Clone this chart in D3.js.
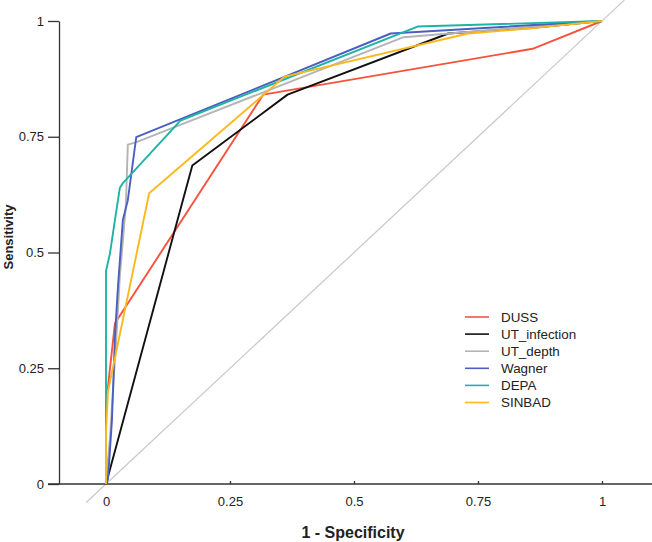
<!DOCTYPE html>
<html>
<head>
<meta charset="utf-8">
<script src="https://cdn.jsdelivr.net/npm/d3@7"></script>
<style>
  body { margin: 0; background: #fff; }
  svg { display: block; font-family: "Liberation Sans", Arial, sans-serif; }
</style>
</head>
<body>
<svg></svg>
<script>
// ROC curves
let seriesNames = ["DUSS", "UT_infection", "UT_depth", "Wagner", "DEPA", "SINBAD"]
let seriesColors = ["#f5533d", "#111111", "#b4b4b4", "#4b5fc2", "#1fb3a3", "#fdb81e"]

let dussFpr = [0, 0, 0.004, 0.018, 0.317, 0.86, 1]
let dussTpr = [0, 0.17, 0.21, 0.347, 0.841, 0.94, 1]

let infectionFpr = [0, 0.174, 0.366, 0.69, 0.855, 1]
let infectionTpr = [0, 0.688, 0.841, 0.973, 0.985, 1]

let depthFpr = [0, 0.008, 0.02, 0.028, 0.04, 0.044, 0.06, 0.16, 0.6, 1]
let depthTpr = [0, 0.1, 0.3, 0.45, 0.6, 0.733, 0.738, 0.78, 0.965, 1]

let wagnerFpr = [0, 0.004, 0.012, 0.018, 0.024, 0.034, 0.044, 0.061, 0.574, 1]
let wagnerTpr = [0, 0.01, 0.138, 0.317, 0.425, 0.57, 0.613, 0.749, 0.973, 1]

let depaFpr = [0, 0, 0, 0.008, 0.018, 0.028, 0.034, 0.15, 0.628, 1]
let depaTpr = [0, 0.17, 0.46, 0.498, 0.57, 0.64, 0.65, 0.785, 0.988, 1]

let sinbadFpr = [0, 0, 0.004, 0.087, 0.36, 0.73, 0.857, 1]
let sinbadTpr = [0, 0.11, 0.2, 0.628, 0.88, 0.973, 0.984, 1]

let tickValues = [0, 0.25, 0.5, 0.75, 1]
let tickLabels = ["0", "0.25", "0.5", "0.75", "1"]
let diagonalRange = [-0.04, 1.045]

let width = 652
let height = 542

let svg = d3.select("svg").attr("width", width).attr("height", height)

let xScale = d3.scaleLinear().domain([0, 1]).range([106, 602])
let yScale = d3.scaleLinear().domain([0, 1]).range([484, 21])

let series = [
    [dussFpr, dussTpr],
    [infectionFpr, infectionTpr],
    [depthFpr, depthTpr],
    [wagnerFpr, wagnerTpr],
    [depaFpr, depaTpr],
    [sinbadFpr, sinbadTpr]
].map((pair, i) => ({
    name: seriesNames[i],
    color: seriesColors[i],
    points: pair[0].map((fx, j) => [fx, pair[1][j]])
}))

// reference diagonal
svg.append("line")
    .attr("x1", xScale(diagonalRange[0]))
    .attr("y1", yScale(diagonalRange[0]))
    .attr("x2", xScale(diagonalRange[1]))
    .attr("y2", yScale(diagonalRange[1]))
    .attr("stroke", "#c8c8c8")
    .attr("stroke-width", 1.2)

// axes
let fmt = (d) => tickLabels[tickValues.indexOf(d)]

let yAxis = d3.axisLeft(yScale)
    .tickValues(tickValues)
    .tickFormat(fmt)
    .tickSizeInner(11)
    .tickSizeOuter(0)
    .tickPadding(4)

svg.append("g")
    .attr("transform", "translate(59,0)")
    .call(yAxis)

let xAxis = d3.axisBottom(xScale)
    .tickValues(tickValues)
    .tickFormat(fmt)
    .tickSizeInner(-3)
    .tickSizeOuter(0)
    .tickPadding(13)

let gx = svg.append("g")
    .attr("transform", "translate(0,484)")
    .call(xAxis)

// x axis line runs from the y tick out to the right edge
gx.select(".domain").attr("d", "M48,0H" + width)

svg.selectAll(".domain, .tick line")
    .attr("stroke", "#333")
    .attr("stroke-width", 1.3)
svg.selectAll(".tick text")
    .attr("fill", "#222")
    .style("font-size", "13px")

// curves
let line = d3.line()
    .x((d) => xScale(d[0]))
    .y((d) => yScale(d[1]))

svg.append("g")
    .selectAll("path")
    .data(series)
    .enter()
    .append("path")
    .attr("d", (d) => line(d.points))
    .attr("fill", "none")
    .attr("stroke", (d) => d.color)
    .attr("stroke-width", 1.9)
    .attr("stroke-linejoin", "round")

// legend
let legend = svg.append("g")
    .selectAll("g")
    .data(series)
    .enter()
    .append("g")
    .attr("transform", (d, i) => "translate(465," + (317 + i * 17.1) + ")")

legend.append("line")
    .attr("x1", 0)
    .attr("x2", 24)
    .attr("stroke", (d) => d.color)
    .attr("stroke-width", 1.6)

legend.append("text")
    .attr("x", 36)
    .attr("dy", "0.35em")
    .style("font-size", "13.4px")
    .attr("fill", "#222")
    .text((d) => d.name)

// axis titles
svg.append("text")
    .attr("x", 353)
    .attr("y", 538)
    .attr("text-anchor", "middle")
    .style("font-size", "16px")
    .style("font-weight", "bold")
    .attr("fill", "#222")
    .text("1 - Specificity")

svg.append("text")
    .attr("transform", "translate(13,237) rotate(-90)")
    .attr("text-anchor", "middle")
    .style("font-size", "13px")
    .style("font-weight", "bold")
    .attr("fill", "#222")
    .text("Sensitivity")
</script>
</body>
</html>
